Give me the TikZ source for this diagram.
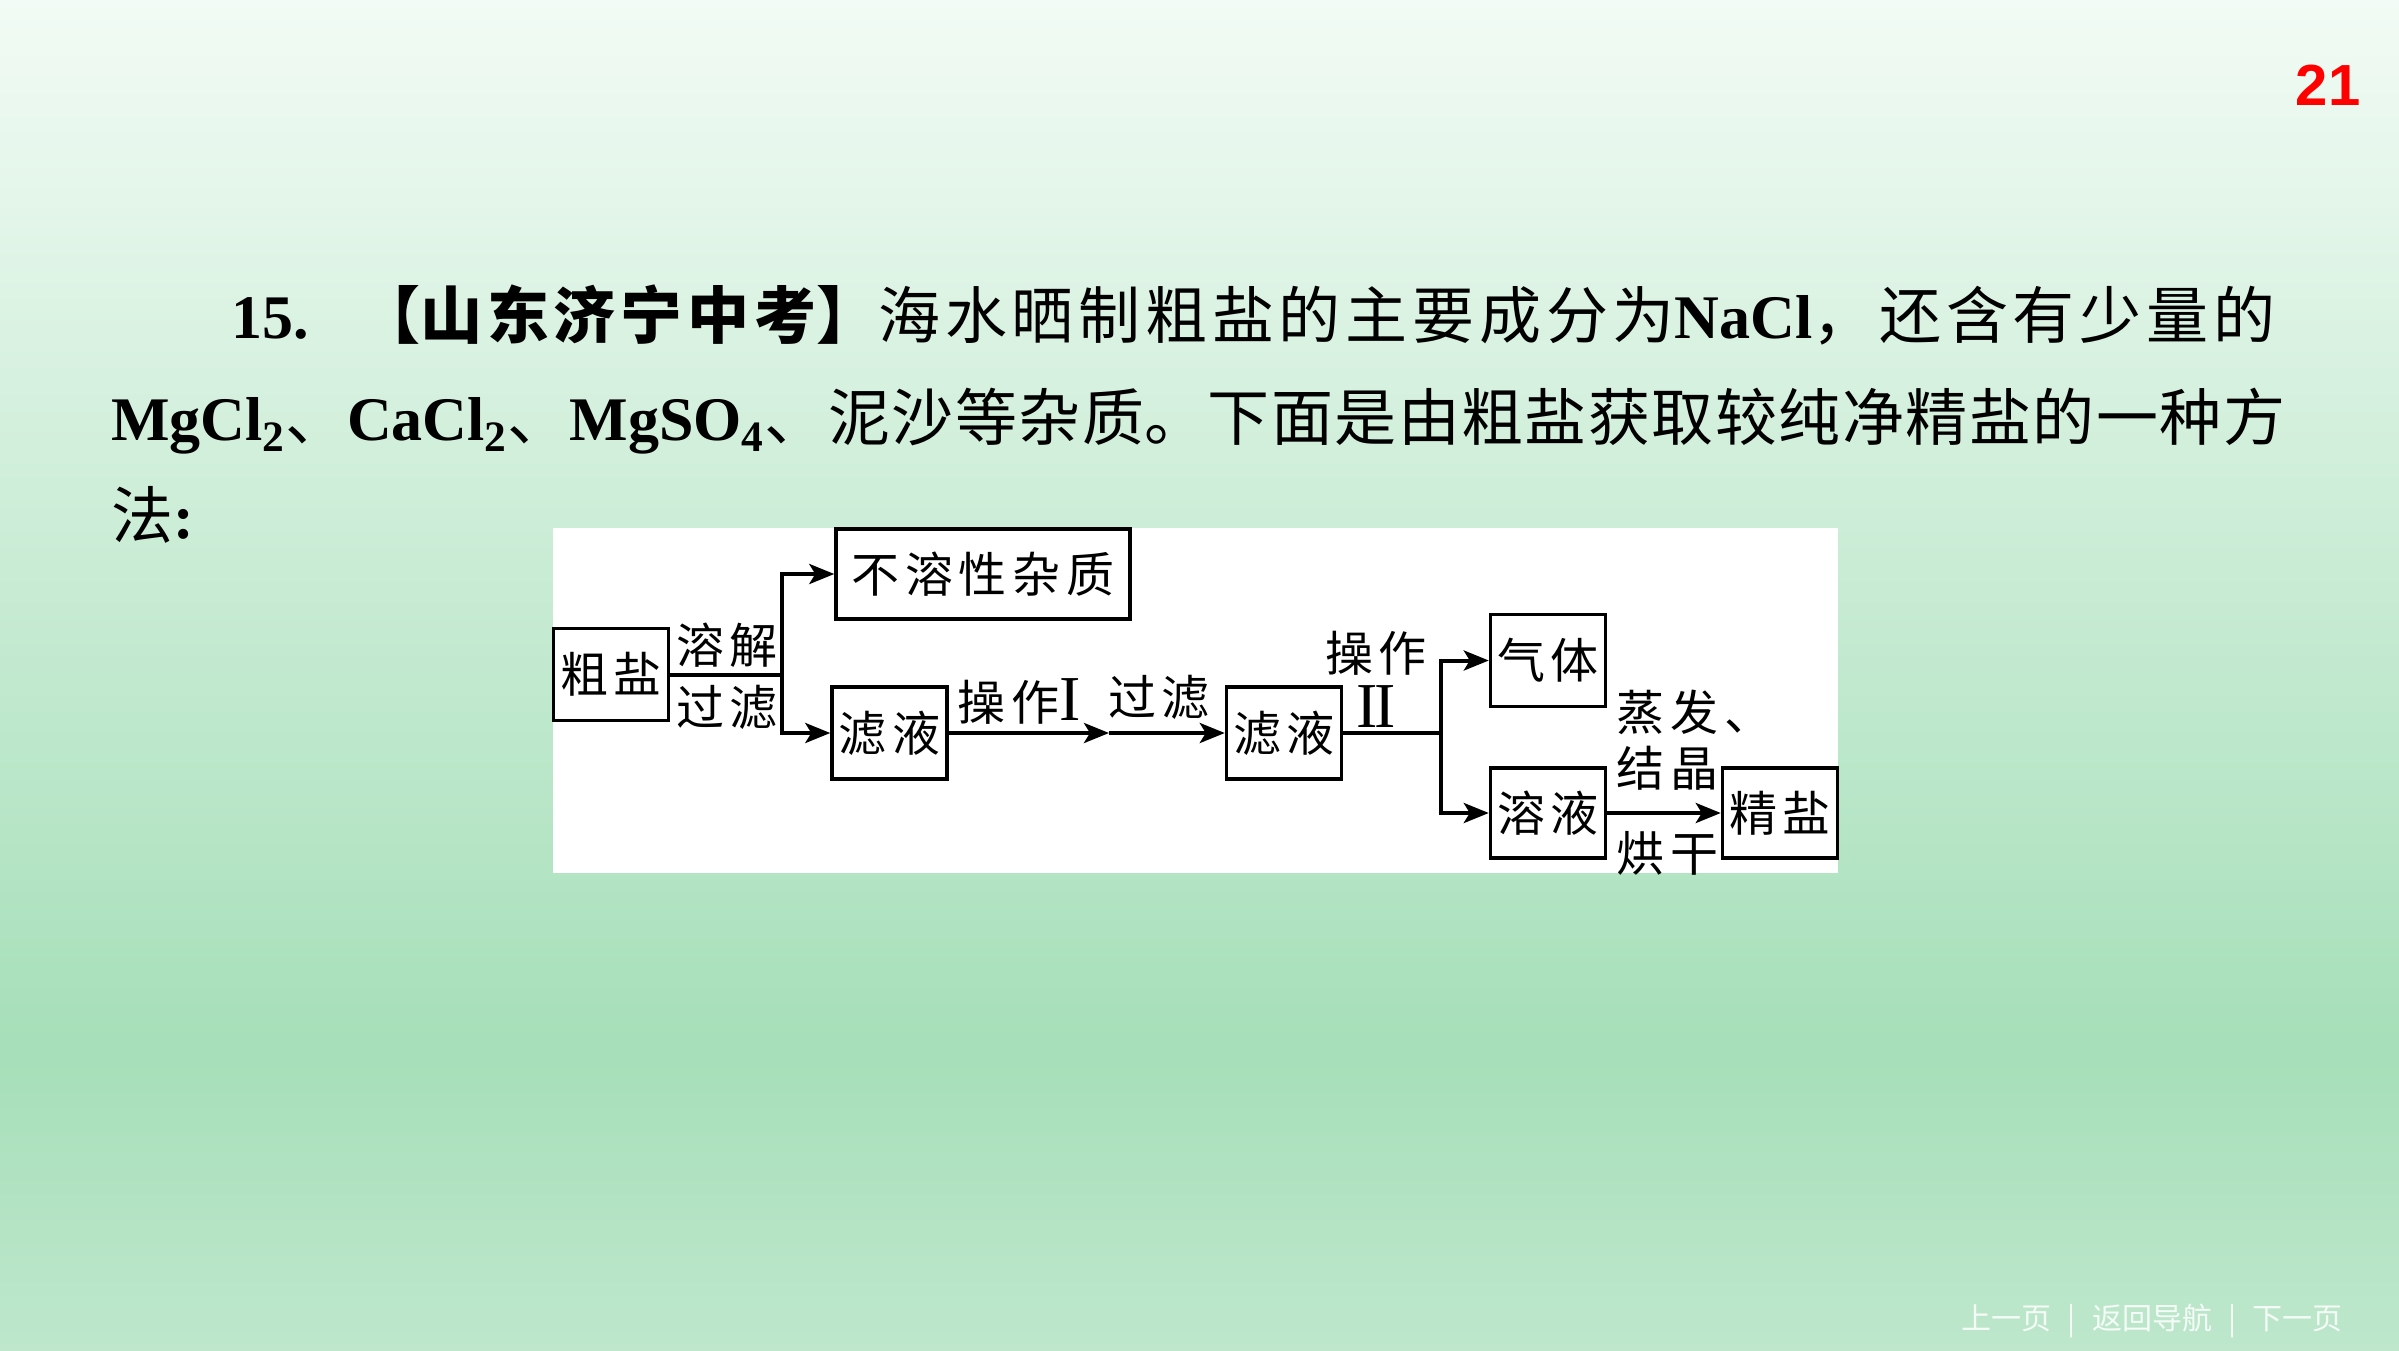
\documentclass[tikz,border=0pt]{standalone}
\usepackage{fontspec}
\usepackage{xcolor}
\usepackage{tikz}
\usetikzlibrary{arrows.meta}

\setmainfont{Noto Sans CJK SC}
\newfontfamily\tnr{Liberation Serif}
\newfontfamily\arialfont{Liberation Sans}
\newfontfamily\diagfont[LetterSpace=12]{Noto Sans CJK SC}
\newcommand{\romnum}[1]{{\tnr\fontsize{32}{32}\selectfont #1}}

\definecolor{bgtop}{HTML}{F2FBF5}
\definecolor{bgmid}{HTML}{A6DFB9}
\definecolor{bgbot}{HTML}{BEE7CC}

\XeTeXlinebreaklocale "zh"
\XeTeXlinebreakskip=0pt plus 20pt

\begin{document}
\begin{tikzpicture}[
  x=0.5pt, y=-0.5pt,
  line width=2pt,
  >={Stealth[length=12.5pt,width=10pt,inset=3pt]},
  box/.style={rectangle, draw, line width=1.7pt, inner sep=0pt, minimum width=57.5pt, minimum height=46pt, font=\diagfont\fontsize{24}{28}\selectfont},
  lbl/.style={inner sep=0pt, font=\diagfont\fontsize{24}{28}\selectfont},
  question/.style={anchor=base west, inner sep=0pt, font=\fontsize{31}{40}\selectfont}
]

% Slide background
\useasboundingbox (0,0) rectangle (2399,1350);
\shade[top color=bgtop, bottom color=bgmid] (0,0) rectangle (2399,1051);
\shade[top color=bgmid, bottom color=bgbot] (0,1050) rectangle (2399,1350);

% Page number
\node[font=\arialfont\bfseries\fontsize{29}{34}\selectfont, text=red] (pagenum) at (2328,85) {21};

% Question text
\node[question, text width=1029.5pt] (line1) at (229,338) {\parfillskip=0pt {\tnr\bfseries 15.}\hspace{25pt}{\bfseries 【山东济宁中考】}海水晒制粗盐的主要成分为{\tnr\bfseries NaCl}，还含有少量的\par};
\node[question, text width=1089.5pt] (line2) at (109,440) {\parfillskip=0pt {\tnr\bfseries MgCl\textsubscript{2}}、{\tnr\bfseries CaCl\textsubscript{2}}、{\tnr\bfseries MgSO\textsubscript{4}}、泥沙等杂质。下面是由粗盐获取较纯净精盐的一种方\par};
\node[question] (line3) at (109,538) {法{\tnr\bfseries :}};

% Diagram panel
\fill[white] (553,528) rectangle (1838,873);

% Boxes
\node[box] (crude) at (611,674.5) {粗盐};
\node[box, minimum width=147pt, minimum height=45pt] (insol) at (983,574) {不溶性杂质};
\node[box] (filt1) at (889.5,733) {滤液};
\node[box] (filt2) at (1284,733) {滤液};
\node[box] (gas) at (1548,660.5) {气体};
\node[box, minimum height=45pt] (soln) at (1548,813) {溶液};
\node[box, minimum height=45pt] (fine) at (1780,813) {精盐};

% Step labels
\node[lbl] (dissolve) at (727,645) {溶解};
\node[lbl] (filter1) at (727,707.5) {过滤};
\node[lbl] (op1) at (1019.5,701.5) {操作\romnum{I}};
\node[lbl] (filter2) at (1159,697) {过滤};
\node[lbl, align=center] (op2) at (1376,679) {操作\\\romnum{I\kern-1.5pt I}};
\node[lbl, anchor=west, align=left] (evap) at (1614.6,740.5) {蒸发、\\结晶};
\node[lbl, anchor=west] (dry) at (1614.6,853) {烘干};

% Connect boxes
\coordinate (split1) at (782,674.5);
\coordinate (mid1) at (1109,733);
\coordinate (split2) at (1441,733);

\draw (crude) -- (split1);
\draw[->] (split1) |- (insol.west);
\draw[->] (split1) |- (filt1.west);
\draw[->] (filt1) -- (mid1);
\draw[->] (mid1) -- (filt2);
\draw (filt2) -- (split2);
\draw[->] (split2) |- (gas.west);
\draw[->] (split2) |- (soln.west);
\draw[->] (soln) -- (fine);

% Footer
\node[text=white, opacity=0.85, font=\fontsize{15}{18}\selectfont] (footer) at (2152,1321) {上一页\hspace{8pt}|\hspace{8pt}返回导航\hspace{8pt}|\hspace{8pt}下一页};

\end{tikzpicture}
\end{document}
